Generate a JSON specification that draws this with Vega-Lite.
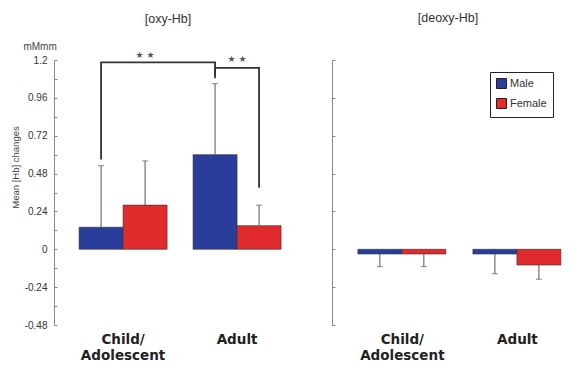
{
  "$schema": "https://vega.github.io/schema/vega-lite/v6.json",
  "padding": {"left": 10, "top": 12, "right": 4, "bottom": 0},
  "background": "white",
  "config": {
    "view": {"stroke": null},
    "font": "Liberation Sans",
    "concat": {"spacing": 31},
    "axis": {"grid": false}
  },
  "datasets": {
    "bars": [
      {"panel": "oxy", "group": "Child/Adolescent", "sex": "Male", "mean": 0.14, "err": 0.53},
      {"panel": "oxy", "group": "Child/Adolescent", "sex": "Female", "mean": 0.28, "err": 0.56},
      {"panel": "oxy", "group": "Adult", "sex": "Male", "mean": 0.60, "err": 1.05},
      {"panel": "oxy", "group": "Adult", "sex": "Female", "mean": 0.15, "err": 0.28},
      {"panel": "deoxy", "group": "Child/Adolescent", "sex": "Male", "mean": -0.03, "err": -0.11},
      {"panel": "deoxy", "group": "Child/Adolescent", "sex": "Female", "mean": -0.03, "err": -0.11},
      {"panel": "deoxy", "group": "Adult", "sex": "Male", "mean": -0.03, "err": -0.155},
      {"panel": "deoxy", "group": "Adult", "sex": "Female", "mean": -0.10, "err": -0.19}
    ],
    "brackets": [
      {"bracket": "b1", "seq": 1, "group": "Child/Adolescent", "sex": "Male", "level": 0.57},
      {"bracket": "b1", "seq": 2, "group": "Child/Adolescent", "sex": "Male", "level": 1.185},
      {"bracket": "b1", "seq": 3, "group": "Adult", "sex": "Male", "level": 1.185},
      {"bracket": "b1", "seq": 4, "group": "Adult", "sex": "Male", "level": 1.085},
      {"bracket": "b2", "seq": 1, "group": "Adult", "sex": "Male", "level": 1.10},
      {"bracket": "b2", "seq": 2, "group": "Adult", "sex": "Male", "level": 1.15},
      {"bracket": "b2", "seq": 3, "group": "Adult", "sex": "Female", "level": 1.15},
      {"bracket": "b2", "seq": 4, "group": "Adult", "sex": "Female", "level": 0.39}
    ],
    "starsPair": [
      {"group": "Child/Adolescent", "sex": "Female", "level": 1.23, "label": "★ ★"}
    ],
    "starsGroup": [
      {"group": "Adult", "level": 1.205, "label": "★ ★"}
    ],
    "unit": [
      {"group": "Child/Adolescent", "sex": "Male", "level": 1.2, "label": "mMmm"}
    ]
  },
  "resolve": {"scale": {"color": "shared"}, "legend": {"color": "independent"}},
  "hconcat": [
    {
      "width": 246,
      "height": 265,
      "title": {"text": "[oxy-Hb]", "frame": "group", "offset": 17, "dx": -9, "fontSize": 12.5, "fontWeight": "normal", "color": "#333", "font": "Liberation Sans"},
      "layer": [
        {
          "data": {"name": "bars"},
          "transform": [{"filter": "datum.panel == 'oxy'"}],
          "mark": {"type": "bar", "stroke": "#333", "strokeWidth": 0.6},
          "encoding": {
            "x": {
              "field": "group", "type": "nominal", "sort": ["Child/Adolescent", "Adult"], "title": null,
              "scale": {"paddingInner": 0.228, "paddingOuter": 0.193, "align": 0.57},
              "axis": {"domain": false, "ticks": false, "labelAngle": 0, "labelFont": "DejaVu Sans", "labelFontWeight": "bold", "labelFontSize": 13.5, "labelColor": "#222", "labelPadding": 7, "labelLineHeight": 16.5, "labelExpr": "datum.value == 'Child/Adolescent' ? ['Child/', 'Adolescent'] : datum.label"}
            },
            "xOffset": {"field": "sex", "type": "nominal", "sort": ["Male", "Female"], "scale": {"paddingInner": 0, "paddingOuter": 0}},
            "y": {
              "field": "mean", "type": "quantitative", "title": "Mean [Hb] changes",
              "scale": {"domain": [-0.48, 1.2], "nice": false, "zero": false},
              "axis": {
                "values": [-0.48, -0.36, -0.24, -0.12, 0, 0.12, 0.24, 0.36, 0.48, 0.6, 0.72, 0.84, 0.96, 1.08, 1.2],
                "tickCount": 30,
                "labelExpr": "abs(round(datum.value / 0.12)) % 2 == 0 ? '' + datum.value : ''",
                "labelOverlap": false, "labelFlush": false, "labelBound": false,
                "tickSize": -3, "labelPadding": 10, "labelFontSize": 10, "labelColor": "#333", "domainColor": "#888", "tickColor": "#888",
                "titleFontSize": 9.5, "titleFontWeight": "normal", "titleColor": "#444", "titleY": 107, "titlePadding": 4
              }
            },
            "color": {"field": "sex", "type": "nominal", "scale": {"domain": ["Male", "Female"], "range": ["#2b3d9b", "#e02a2c"]}, "legend": null}
          }
        },
        {
          "mark": {"type": "rule", "color": "#999", "strokeDash": [2, 2], "strokeWidth": 1},
          "encoding": {"y": {"datum": 0}}
        },
        {
          "data": {"name": "bars"},
          "transform": [{"filter": "datum.panel == 'oxy'"}],
          "mark": {"type": "rule", "color": "#555", "strokeWidth": 1},
          "encoding": {
            "x": {"field": "group", "type": "nominal", "sort": ["Child/Adolescent", "Adult"]},
            "xOffset": {"field": "sex", "type": "nominal", "sort": ["Male", "Female"]},
            "y": {"field": "mean", "type": "quantitative"},
            "y2": {"field": "err"}
          }
        },
        {
          "data": {"name": "bars"},
          "transform": [{"filter": "datum.panel == 'oxy'"}],
          "mark": {"type": "tick", "orient": "horizontal", "size": 6, "thickness": 1, "color": "#555"},
          "encoding": {
            "x": {"field": "group", "type": "nominal", "sort": ["Child/Adolescent", "Adult"]},
            "xOffset": {"field": "sex", "type": "nominal", "sort": ["Male", "Female"]},
            "y": {"field": "err", "type": "quantitative"}
          }
        },
        {
          "data": {"name": "brackets"},
          "mark": {"type": "line", "color": "#333", "strokeWidth": 1.8, "interpolate": "linear"},
          "encoding": {
            "x": {"field": "group", "type": "nominal", "sort": ["Child/Adolescent", "Adult"]},
            "xOffset": {"field": "sex", "type": "nominal", "sort": ["Male", "Female"]},
            "y": {"field": "level", "type": "quantitative"},
            "detail": {"field": "bracket"},
            "order": {"field": "seq", "type": "quantitative"}
          }
        },
        {
          "data": {"name": "starsPair"},
          "mark": {"type": "text", "font": "DejaVu Sans", "fontSize": 9, "color": "#555", "baseline": "middle"},
          "encoding": {
            "x": {"field": "group", "type": "nominal", "sort": ["Child/Adolescent", "Adult"]},
            "xOffset": {"field": "sex", "type": "nominal", "sort": ["Male", "Female"]},
            "y": {"field": "level", "type": "quantitative"},
            "text": {"field": "label"}
          }
        },
        {
          "data": {"name": "starsGroup"},
          "mark": {"type": "text", "font": "DejaVu Sans", "fontSize": 9, "color": "#555", "baseline": "middle"},
          "encoding": {
            "x": {"field": "group", "type": "nominal", "sort": ["Child/Adolescent", "Adult"]},
            "y": {"field": "level", "type": "quantitative"},
            "text": {"field": "label"}
          }
        },
        {
          "data": {"name": "unit"},
          "mark": {"type": "text", "fontSize": 10, "color": "#444", "baseline": "middle", "dx": -61, "dy": -13},
          "encoding": {
            "x": {"field": "group", "type": "nominal", "sort": ["Child/Adolescent", "Adult"]},
            "xOffset": {"field": "sex", "type": "nominal", "sort": ["Male", "Female"]},
            "y": {"field": "level", "type": "quantitative"},
            "text": {"field": "label"}
          }
        }
      ]
    },
    {
      "width": 240,
      "height": 265,
      "title": {"text": "[deoxy-Hb]", "frame": "group", "offset": 35, "dx": -4, "fontSize": 12.5, "fontWeight": "normal", "color": "#333", "font": "Liberation Sans"},
      "layer": [
        {
          "data": {"name": "bars"},
          "transform": [{"filter": "datum.panel == 'deoxy'"}],
          "mark": {"type": "bar", "stroke": "#333", "strokeWidth": 0.6},
          "encoding": {
            "x": {
              "field": "group", "type": "nominal", "sort": ["Child/Adolescent", "Adult"], "title": null,
              "scale": {"paddingInner": 0.226, "paddingOuter": 0.156, "align": 0.72},
              "axis": {"domain": false, "ticks": false, "labelAngle": 0, "labelFont": "DejaVu Sans", "labelFontWeight": "bold", "labelFontSize": 13.5, "labelColor": "#222", "labelPadding": 7, "labelLineHeight": 16.5, "labelExpr": "datum.value == 'Child/Adolescent' ? ['Child/', 'Adolescent'] : datum.label"}
            },
            "xOffset": {"field": "sex", "type": "nominal", "sort": ["Male", "Female"], "scale": {"paddingInner": 0, "paddingOuter": 0}},
            "y": {
              "field": "mean", "type": "quantitative", "title": null,
              "scale": {"domain": [-0.48, 1.2], "nice": false, "zero": false},
              "axis": {
                "values": [-0.48, -0.24, 0, 0.24, 0.48, 0.72, 0.96, 1.2],
                "tickCount": 30,
                "labels": false, "tickSize": -3, "domainColor": "#888", "tickColor": "#888"
              }
            },
            "color": {
              "field": "sex", "type": "nominal", "scale": {"domain": ["Male", "Female"], "range": ["#2b3d9b", "#e02a2c"]},
              "legend": {"title": null, "orient": "none", "legendX": 158, "legendY": 12, "strokeColor": "#222", "fillColor": "white", "padding": 6, "symbolType": "square", "symbolSize": 100, "symbolStrokeColor": "#222", "symbolStrokeWidth": 1, "labelFontSize": 11, "labelFont": "Liberation Sans", "labelColor": "#333", "rowPadding": 5, "labelOffset": 3}
            }
          }
        },
        {
          "mark": {"type": "rule", "color": "#999", "strokeDash": [2, 2], "strokeWidth": 1},
          "encoding": {"y": {"datum": 0}}
        },
        {
          "data": {"name": "bars"},
          "transform": [{"filter": "datum.panel == 'deoxy'"}],
          "mark": {"type": "rule", "color": "#555", "strokeWidth": 1},
          "encoding": {
            "x": {"field": "group", "type": "nominal", "sort": ["Child/Adolescent", "Adult"]},
            "xOffset": {"field": "sex", "type": "nominal", "sort": ["Male", "Female"]},
            "y": {"field": "mean", "type": "quantitative"},
            "y2": {"field": "err"}
          }
        },
        {
          "data": {"name": "bars"},
          "transform": [{"filter": "datum.panel == 'deoxy'"}],
          "mark": {"type": "tick", "orient": "horizontal", "size": 6, "thickness": 1, "color": "#555"},
          "encoding": {
            "x": {"field": "group", "type": "nominal", "sort": ["Child/Adolescent", "Adult"]},
            "xOffset": {"field": "sex", "type": "nominal", "sort": ["Male", "Female"]},
            "y": {"field": "err", "type": "quantitative"}
          }
        }
      ]
    }
  ]
}
